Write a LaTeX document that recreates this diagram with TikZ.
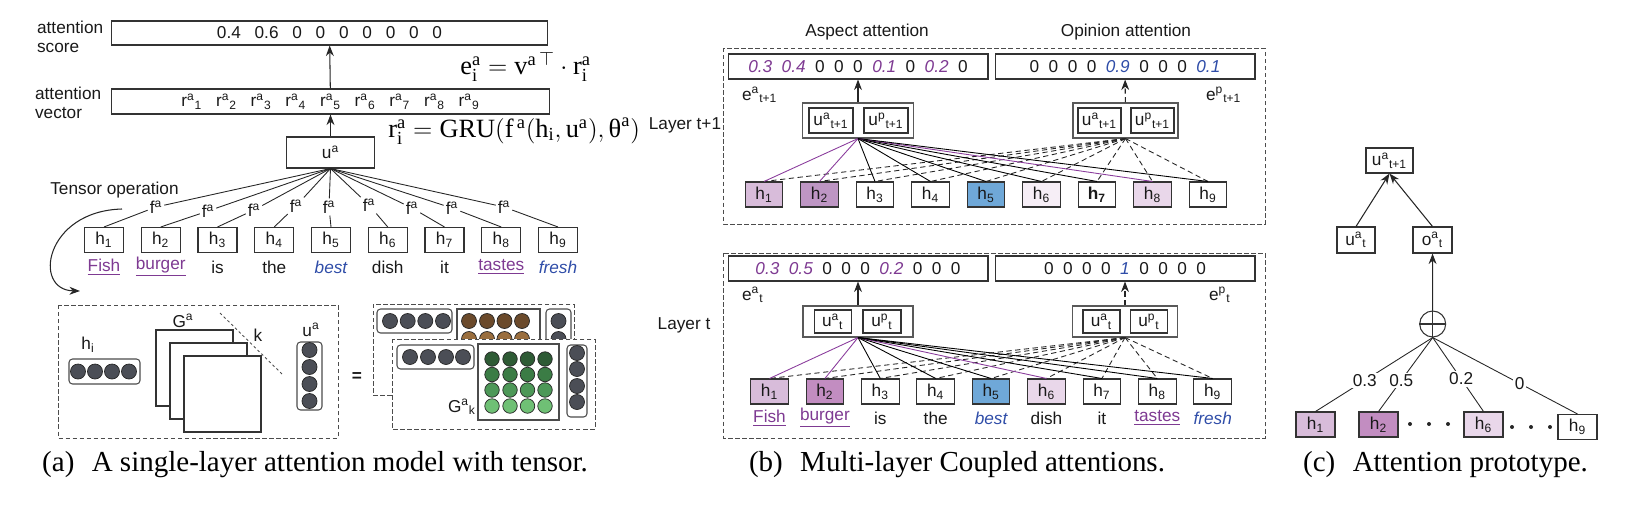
\documentclass[tikz,border=0pt]{standalone}
\usepackage{amsmath}
\usepackage{fontspec}
\setmainfont{Liberation Serif}
\setsansfont{Liberation Sans}
\usetikzlibrary{positioning}
\usetikzlibrary{arrows.meta}

\definecolor{txtpurple}{HTML}{7E3A92}
\definecolor{txtblue}{HTML}{2F4DA8}
\definecolor{linepurple}{HTML}{8A3C9C}
\definecolor{hlight}{HTML}{D8BCDA}
\definecolor{hmid}{HTML}{BE96C4}
\definecolor{hmidb}{HTML}{C28DC1}
\definecolor{hpale}{HTML}{E9D7EA}
\definecolor{hpaler}{HTML}{F6EEF6}
\definecolor{hblue}{HTML}{6FA8D8}
\definecolor{dotgray}{HTML}{4B4E56}
\definecolor{brownA}{HTML}{6B4A2B}
\definecolor{brownB}{HTML}{9A6E3E}
\definecolor{greenA}{HTML}{2E5B35}
\definecolor{greenB}{HTML}{3B7C45}
\definecolor{greenC}{HTML}{4D9858}
\definecolor{greenD}{HTML}{6FC075}

\newcommand{\hsub}[1]{$_{\textsf{#1}}$}
\newcommand{\hsup}[1]{$^{\textsf{#1}}$}
\newcommand{\pv}[1]{{\color{txtpurple}\itshape #1}}
\newcommand{\bv}[1]{{\color{txtblue}\itshape #1}}
\newcommand{\ga}{\hspace{0.8em}}
\newcommand{\gb}{\hspace{0.55em}}

\begin{document}
\begin{tikzpicture}[x=0.02cm, y=-0.02cm,
  every node/.style={font=\sffamily\fontsize{9.8}{10.8}\selectfont, text=black!90},
  lbl/.style={inner sep=1pt},
  hbox/.style={draw=black!80, line width=0.6pt, minimum width=0.75cm, minimum height=0.5cm, inner sep=0pt},
  ebox/.style={draw=black!80, line width=0.6pt, minimum height=0.5cm, inner sep=0pt},
  outer/.style={draw=black!65, line width=0.6pt, inner sep=0pt},
  arr/.style={-{Stealth[length=6pt,width=4.5pt]}, line width=0.6pt, black!85},
  fan/.style={line width=0.5pt, black!85},
  dfan/.style={line width=0.5pt, black!85, dash pattern=on 3pt off 2pt},
  tensor/.style={draw=black!70, line width=0.5pt, dash pattern=on 2.5pt off 1.5pt},
  vecbox/.style={draw=black!70, line width=0.6pt, rounded corners=2pt, fill=white},
  matbox/.style={draw=black!70, line width=0.6pt, fill=white},
  ball/.style={draw=black!85, line width=0.4pt},
  captxt/.style={font=\rmfamily\fontsize{16.5}{18}\selectfont, text=black},
  formula/.style={font=\rmfamily\fontsize{15}{17}\selectfont, text=black, inner sep=0pt}]
\useasboundingbox (0,0) rectangle (1630,504);

\node[lbl, anchor=west, align=left] at (35,37) {attention\\score};
\node[ebox, minimum width=8.72cm, minimum height=0.48cm] (score) at (329.5,33) {0.4\ga 0.6\ga 0\ga 0\ga 0\ga 0\ga 0\ga 0\ga 0};
\node[lbl, anchor=west, align=left] at (33,103) {attention\\vector};
\node[ebox, minimum width=8.77cm] (rvec) at (330.5,101.5) {r\hsup{a}\hsub{1}\ga r\hsup{a}\hsub{2}\ga r\hsup{a}\hsub{3}\ga r\hsup{a}\hsub{4}\ga r\hsup{a}\hsub{5}\ga r\hsup{a}\hsub{6}\ga r\hsup{a}\hsub{7}\ga r\hsup{a}\hsub{8}\ga r\hsup{a}\hsub{9}};
\node[ebox, minimum width=1.76cm, minimum height=0.62cm] (ua) at (330.5,152.5) {u\hsup{a}};
\draw[arr] (ua) -- (rvec);
\draw[arr] (rvec) -- (score);
\node[formula, anchor=west] at (460,67) {$\mathrm{e}^{\mathrm{a}}_{\mathrm{i}} = \mathrm{v}^{\mathrm{a}\,\top}\cdot\mathrm{r}^{\mathrm{a}}_{\mathrm{i}}$};
\node[formula, anchor=west] at (388,131) {$\mathrm{r}^{\mathrm{a}}_{\mathrm{i}} = \mathrm{GRU}(\mathrm{f}^{\,\mathrm{a}}(\mathrm{h}_{\mathrm{i}},\mathrm{u}^{\mathrm{a}}),\textrm{θ}^{\mathrm{a}})$};

\foreach \i/\x/\fx/\fy in {1/104/156/207, 2/160.75/208/211, 3/217.5/254/210, 4/274.25/296/206, 5/331/329/207, 6/387.75/369/205, 7/444.5/412/208, 8/501.25/452/208, 9/558/504/207} {
  \node[hbox, minimum width=0.78cm] (h\i) at (\x,240) {h\hsub{\i}};
  \node[lbl] (f\i) at (\fx,\fy) {f\hsup{a}};
  \draw[fan] (ua.south) -- (f\i) -- (h\i.north);
}
\node[text=txtpurple] at (104,267) {\underline{Fish}};
\node[text=txtpurple] at (160.75,267) {\underline{burger}};
\node at (217.5,267) {is};
\node at (274.25,267) {the};
\node[text=txtblue] at (331,267) {\itshape best};
\node at (387.75,267) {dish};
\node at (444.5,267) {it};
\node[text=txtpurple] at (501.25,267) {\underline{tastes}};
\node[text=txtblue] at (558,267) {\itshape fresh};

\node[lbl] at (114.5,190) {Tensor operation};
\coordinate (tsA) at (122,209);
\coordinate (tsB) at (80,291);
\draw[arr] (tsA) .. controls (45,211) and (32,290) .. (tsB);

\draw[tensor] (58,305) rectangle (338,438);
\node[lbl] at (88,345) {h\hsub{i}};
\draw[vecbox] (69,359) rectangle (140,384);
\foreach \x in {78,95,112,129} \draw[ball, fill=dotgray] (\x,371.5) circle (0.15cm);
\node[lbl] at (183,321) {G\hsup{a}};
\draw[draw=black!80, fill=white, line width=0.6pt] (156,330) rectangle (233,406);
\draw[draw=black!80, fill=white, line width=0.6pt] (170,343) rectangle (247,419);
\draw[draw=black!80, fill=white, line width=0.6pt] (184,356) rectangle (261,432);
\draw[black!70, line width=0.5pt, dash pattern=on 1.5pt off 1.5pt] (220,313) -- (283,375);
\node[lbl] at (258,335) {k};
\node[lbl] at (311,330) {u\hsup{a}};
\draw[vecbox] (297,342) rectangle (322,410);
\foreach \y in {350,367,384,401} \draw[ball, fill=dotgray] (309.5,\y) circle (0.15cm);
\node[lbl] at (357,377) {\bfseries =};

\draw[tensor, fill=white] (373,304) rectangle (574,395);
\draw[vecbox] (377,309) rectangle (452,333);
\foreach \x in {390,407.7,425.3,443} \draw[ball, fill=dotgray] (\x,321) circle (0.15cm);
\draw[matbox] (457,309) rectangle (540,385);
\foreach \x in {469,487,504.5,522} {
  \draw[ball, fill=brownA] (\x,321) circle (0.15cm);
  \draw[ball, fill=brownB] (\x,339) circle (0.15cm);
}
\draw[vecbox] (546,309) rectangle (571,385);
\foreach \y in {321,339,357,375} \draw[ball, fill=dotgray] (558.5,\y) circle (0.15cm);
\draw[tensor, fill=white] (392,339) rectangle (595,429);
\draw[vecbox] (397,345) rectangle (474,369);
\foreach \x in {410,428,446,463} \draw[ball, fill=dotgray] (\x,357) circle (0.15cm);
\draw[matbox] (478,344) rectangle (559,420);
\foreach \x in {492,510,527.5,545} {
  \draw[ball, fill=greenA] (\x,359) circle (0.145cm);
  \draw[ball, fill=greenB] (\x,374.5) circle (0.145cm);
  \draw[ball, fill=greenC] (\x,390) circle (0.145cm);
  \draw[ball, fill=greenD] (\x,406) circle (0.145cm);
}
\draw[vecbox] (567,345) rectangle (587,417);
\foreach \y in {353,369,386,402} \draw[ball, fill=dotgray] (577,\y) circle (0.15cm);
\node[lbl, anchor=east] at (478,407) {G\hsup{a}\hsub{k}};

\node[captxt] at (315,465) {(a)\hspace{0.6em}A single-layer attention model with tensor.};

\node[lbl] at (867,32) {Aspect attention};
\node[lbl] at (1126,32) {Opinion attention};
\draw[tensor] (723.6,48) rectangle (1265,224);
\node[lbl] at (685,125) {Layer t+1};
\node[ebox, minimum width=5.2cm] (ea1) at (858,66.5) {\pv{0.3}\gb\pv{0.4}\gb 0\gb 0\gb 0\gb\pv{0.1}\gb 0\gb\pv{0.2}\gb 0};
\node[ebox, minimum width=5.2cm] (ep1) at (1125,66.5) {0\gb 0\gb 0\gb 0\gb\bv{0.9}\gb 0\gb 0\gb 0\gb\bv{0.1}};
\node[lbl, anchor=west] at (740,95) {e\hsup{a}\hsub{t+1}};
\node[lbl, anchor=west] at (1204,95) {e\hsup{p}\hsub{t+1}};
\node[outer, minimum width=2.21cm, minimum height=0.7cm] (ua1) at (858,120.5) {};
\node[hbox, minimum width=0.88cm] at (831,120.5) {u\hsup{a}\hsub{t+1}};
\node[hbox, minimum width=0.88cm] at (886,120.5) {u\hsup{p}\hsub{t+1}};
\node[outer, minimum width=2.1cm, minimum height=0.7cm] (uo1) at (1125.5,120.5) {};
\node[hbox, minimum width=0.86cm] at (1099.5,120.5) {u\hsup{a}\hsub{t+1}};
\node[hbox, minimum width=0.86cm] at (1152.5,120.5) {u\hsup{p}\hsub{t+1}};
\draw[arr] (ua1) -- (ea1);
\draw[arr, dash pattern=on 3pt off 2pt] (uo1) -- (ep1);
\foreach \i/\x/\fc/\lc/\ft in {1/764/hlight/linepurple/\relax, 2/819.5/hmid/linepurple/\relax, 3/875/white/black/\relax, 4/930.5/white/black/\relax, 5/986/hblue/black/\relax, 6/1041.5/hpaler/black/\relax, 7/1097/white/black/\bfseries, 8/1152.5/hpale/linepurple/\relax, 9/1208/white/black/\relax} {
  \node[hbox, fill=\fc] (ht\i) at (\x,194.5) {\ft h\hsub{\i}};
  \draw[dfan] (uo1.south) -- (ht\i.north);
  \draw[fan, \lc] (ua1.south) -- (ht\i.north);
}

\draw[tensor] (723.6,253) rectangle (1265,438);
\node[lbl] at (684,325) {Layer t};
\node[ebox, minimum width=5.2cm] (ea0) at (858,268.5) {\pv{0.3}\gb\pv{0.5}\gb 0\gb 0\gb 0\gb\pv{0.2}\gb 0\gb 0\gb 0};
\node[ebox, minimum width=5.2cm] (ep0) at (1125,268.5) {0\gb 0\gb 0\gb 0\gb\bv{1}\gb 0\gb 0\gb 0\gb 0};
\node[lbl, anchor=west] at (740,295) {e\hsup{a}\hsub{t}};
\node[lbl, anchor=west] at (1207,295) {e\hsup{p}\hsub{t}};
\node[outer, minimum width=2.2cm, minimum height=0.62cm] (ua0) at (858,321.5) {};
\node[hbox, minimum width=0.74cm, minimum height=0.46cm] at (832.7,321.5) {u\hsup{a}\hsub{t}};
\node[hbox, minimum width=0.76cm, minimum height=0.46cm] at (882,321.5) {u\hsup{p}\hsub{t}};
\node[outer, minimum width=2.09cm, minimum height=0.62cm] (uo0) at (1125,321.5) {};
\node[hbox, minimum width=0.74cm, minimum height=0.46cm] at (1101.5,321.5) {u\hsup{a}\hsub{t}};
\node[hbox, minimum width=0.74cm, minimum height=0.46cm] at (1149,321.5) {u\hsup{p}\hsub{t}};
\draw[arr] (ua0) -- (ea0);
\draw[arr, dash pattern=on 3pt off 2pt] (uo0) -- (ep0);
\foreach \i/\x/\fc/\lc in {1/769.5/hlight/linepurple, 2/824.9/hmidb/linepurple, 3/880.3/white/black, 4/935.7/white/black, 5/991.1/hblue/black, 6/1046.5/hpale/linepurple, 7/1101.9/white/black, 8/1157.3/white/black, 9/1212.7/white/black} {
  \node[hbox, fill=\fc] (hb\i) at (\x,391.5) {h\hsub{\i}};
  \draw[dfan] (uo0.south) -- (hb\i.north);
  \draw[fan, \lc] (ua0.south) -- (hb\i.north);
}
\node[text=txtpurple] at (769.5,418) {\underline{Fish}};
\node[text=txtpurple] at (824.9,418) {\underline{burger}};
\node at (880.3,418) {is};
\node at (935.7,418) {the};
\node[text=txtblue] at (991.1,418) {\itshape best};
\node at (1046.5,418) {dish};
\node at (1101.9,418) {it};
\node[text=txtpurple] at (1157.3,418) {\underline{tastes}};
\node[text=txtblue] at (1212.7,418) {\itshape fresh};

\node[captxt] at (957,465) {(b)\hspace{0.6em}Multi-layer Coupled attentions.};

\node[hbox, minimum width=0.94cm] (uc) at (1389.5,160.5) {u\hsup{a}\hsub{t+1}};
\node[hbox, minimum width=0.76cm, minimum height=0.52cm] (uct) at (1356,240) {u\hsup{a}\hsub{t}};
\node[hbox, minimum width=0.78cm, minimum height=0.52cm] (oct) at (1432.5,240) {o\hsup{a}\hsub{t}};
\node[circle, draw=black!80, line width=0.6pt, minimum size=0.52cm, inner sep=0pt] (plus) at (1432.7,324) {};
\draw[line width=0.6pt, black!80] (plus.north) -- (plus.south);
\draw[line width=0.6pt, black!80] (plus.west) -- (plus.east);
\draw[arr] (uct.north) -- (uc.south);
\draw[arr] (oct.north) -- (uc.south);
\draw[arr] (plus) -- (oct);
\node[hbox, minimum width=0.78cm, fill=hlight] (hc1) at (1315.5,424.5) {h\hsub{1}};
\node[hbox, minimum width=0.78cm, fill=hmidb] (hc2) at (1378.5,424.5) {h\hsub{2}};
\node[hbox, minimum width=0.78cm, fill=hpale] (hc6) at (1483.5,424.5) {h\hsub{6}};
\node[hbox, minimum width=0.78cm] (hc9) at (1577.5,427) {h\hsub{9}};
\draw[fan] (plus.south) -- node[lbl, fill=white, pos=0.58] {0.3} (hc1.north);
\draw[fan] (plus.south) -- node[lbl, fill=white, pos=0.58] {0.5} (hc2.north);
\draw[fan] (plus.south) -- node[lbl, fill=white, pos=0.56] {0.2} (hc6.north);
\draw[fan] (plus.south) -- node[lbl, fill=white, pos=0.6] {0} (hc9.north);
\foreach \x in {1410,1429,1448} \fill[black!85] (\x,424) circle (0.04cm);
\foreach \x in {1512,1531,1550} \fill[black!85] (\x,427) circle (0.04cm);

\node[captxt] at (1445.5,465) {(c)\hspace{0.6em}Attention prototype.};

\end{tikzpicture}
\end{document}
